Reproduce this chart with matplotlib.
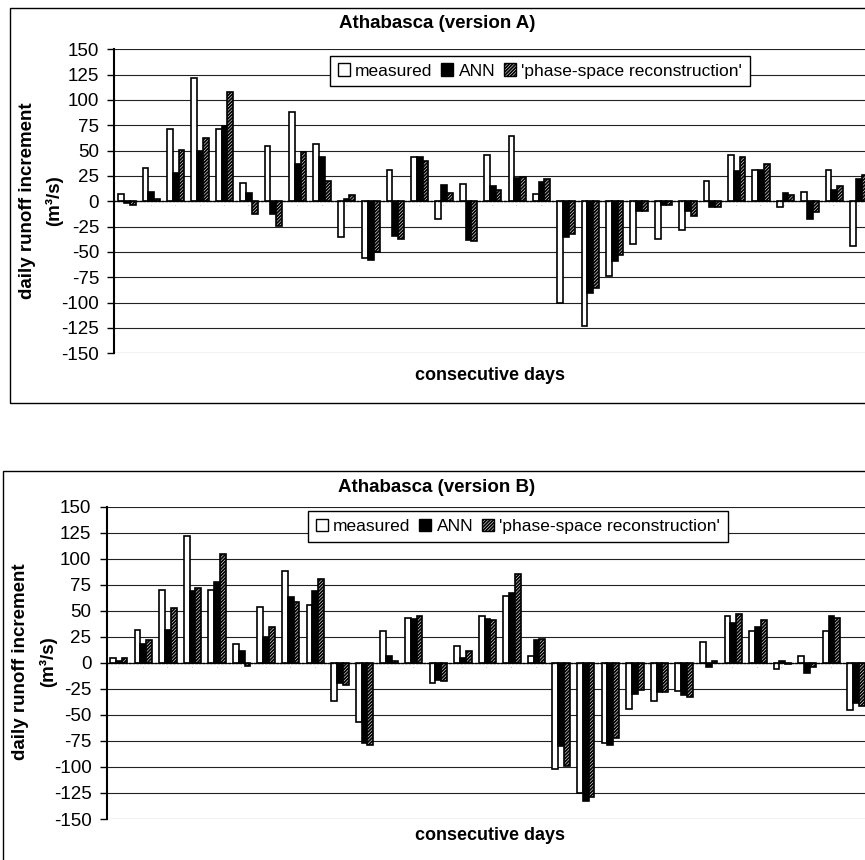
import matplotlib
matplotlib.use("Agg")
import matplotlib.pyplot as plt
from matplotlib.patches import Rectangle, Patch
import numpy as np

plt.rcParams['font.family'] = ['Liberation Sans', 'DejaVu Sans']
plt.rcParams['hatch.linewidth'] = 1.3

days = list(range(1, 32))
series_names = ["measured", "ANN", "'phase-space reconstruction'"]

# Version A
measured_A = [7, 33, 71, 122, 71, 18, 55, 88, 57, -35, -56, 31, 44, -17, 17, 46, 64, 7,
              -100, -123, -74, -42, -37, -28, 20, 46, 31, -6, 9, 31, -44]
ann_A = [-2, 9, 28, 50, 74, 8, -13, 37, 44, 2, -58, -34, 44, 16, -38, 15, 23, 19,
         -35, -90, -59, -10, -4, -10, -6, 30, 31, 8, -17, 11, 22]
psr_A = [-4, 2, 51, 62, 108, -13, -24, 49, 20, 6, -50, -37, 40, 8, -39, 11, 24, 22,
         -32, -86, -53, -10, -4, -15, -6, 44, 37, 6, -11, 15, 26]

# Version B
measured_B = [5, 32, 70, 122, 70, 18, 54, 88, 56, -37, -57, 31, 43, -19, 16, 45, 64, 7,
              -102, -125, -77, -44, -37, -27, 20, 45, 31, -6, 7, 31, -45]
ann_B = [2, 18, 32, 69, 78, 11, 25, 63, 69, -19, -77, 7, 42, -16, 5, 42, 67, 22,
         -80, -133, -79, -30, -28, -31, -4, 38, 34, 2, -10, 45, -39]
psr_B = [5, 22, 53, 72, 105, -3, 34, 58, 81, -21, -79, 2, 45, -17, 11, 41, 85, 23,
         -99, -129, -72, -26, -28, -33, 2, 47, 41, -1, -4, 43, -41]

yticks = list(range(-150, 151, 25))

W, H = 865, 860
fig = plt.figure(figsize=(W / 100, H / 100), dpi=100)

HATCH = '//////////'


def fx(px):
    return px / W


def fy(py):
    return 1 - py / H


def draw_chart(ax_rect, xlim, measured, ann, psr, title, title_y, legend_center,
               ylab_x1, ylab_x2, ylab_y, xlab_y, frame):
    fl, ft, fb = frame
    fig.patches.append(Rectangle((fx(fl), fy(fb)), 1.2, fy(ft) - fy(fb),
                                 transform=fig.transFigure, fill=False,
                                 edgecolor='black', linewidth=1.0, zorder=0))
    ax = fig.add_axes(ax_rect)
    x = np.arange(len(days))
    w = 0.2366
    ax.bar(x - w, measured, w, color='white', edgecolor='black', linewidth=1.2,
           label=series_names[0], zorder=3)
    ax.bar(x, ann, w, color='black', edgecolor='black', linewidth=1.2,
           label=series_names[1], zorder=3)
    ax.bar(x + w, psr, w, color='white', edgecolor='black', hatch=HATCH,
           linewidth=1.2, label=series_names[2], zorder=3)
    ax.set_xlim(*xlim)
    ax.set_ylim(-150, 150)
    ax.set_yticks(yticks)
    ax.set_yticklabels([str(t) for t in yticks], fontsize=13.5)
    ax.yaxis.grid(True, color='#222222', linewidth=0.8)
    ax.set_axisbelow(True)
    ax.tick_params(axis='y', direction='out', length=5, width=1.0, pad=6)
    for s in ['top', 'right']:
        ax.spines[s].set_visible(False)
    ax.spines['left'].set_linewidth(1.5)
    ax.spines['bottom'].set_position(('data', 0))
    ax.spines['bottom'].set_linestyle(':')
    ax.spines['bottom'].set_linewidth(1.0)
    ax.spines['bottom'].set_zorder(4)
    ax.set_xticks(x)
    ax.set_xticklabels([str(d) for d in days], fontsize=1.5, color='#888888')
    ax.tick_params(axis='x', length=0, pad=3)

    fig.text(fx(437), fy(title_y), title, ha='center', va='center',
             fontsize=13.5, fontweight='bold')
    fig.text(fx(490), fy(xlab_y), 'consecutive days', ha='center', va='center',
             fontsize=13, fontweight='bold')
    fig.text(fx(ylab_x1), fy(ylab_y), 'daily runoff increment', ha='center',
             va='center', rotation=90, fontsize=13.5, fontweight='bold')
    fig.text(fx(ylab_x2), fy(ylab_y), '(m³/s)', ha='center', va='center',
             rotation=90, fontsize=13.5, fontweight='bold')

    handles = [Patch(facecolor='white', edgecolor='black', linewidth=1.0),
               Patch(facecolor='black', edgecolor='black', linewidth=1.0),
               Patch(facecolor='white', edgecolor='black', hatch=HATCH, linewidth=1.0)]
    leg = ax.legend(handles, series_names, loc='center',
                    bbox_to_anchor=(fx(legend_center[0]), fy(legend_center[1])),
                    bbox_transform=fig.transFigure, ncol=3, fontsize=12.5,
                    frameon=True, fancybox=False, framealpha=1, edgecolor='black',
                    handlelength=0.7, handleheight=0.7, handletextpad=0.3,
                    columnspacing=0.5, borderpad=0.45, borderaxespad=0)
    leg.get_frame().set_linewidth(1.0)
    leg.set_zorder(10)
    return ax


# Top chart (version A)
top_rect = [fx(114.3), fy(353.3), fx(865 - 114.3), (353.3 - 49.3) / H]
draw_chart(top_rect, (-0.519, 30.26), measured_A, ann_A, psr_A,
           'Athabasca (version A)', 24, (540, 71), 28, 54, 201, 375,
           (10, 8, 402.7))

# Bottom chart (version B)
bot_rect = [fx(106.7), fy(819), fx(865 - 106.7), (819 - 506.7) / H]
draw_chart(bot_rect, (-0.488, 30.36), measured_B, ann_B, psr_B,
           'Athabasca (version B)', 487, (518, 526.5), 21, 48, 662, 835,
           (3.3, 471, 900))

fig.savefig('out.png', dpi=100)
